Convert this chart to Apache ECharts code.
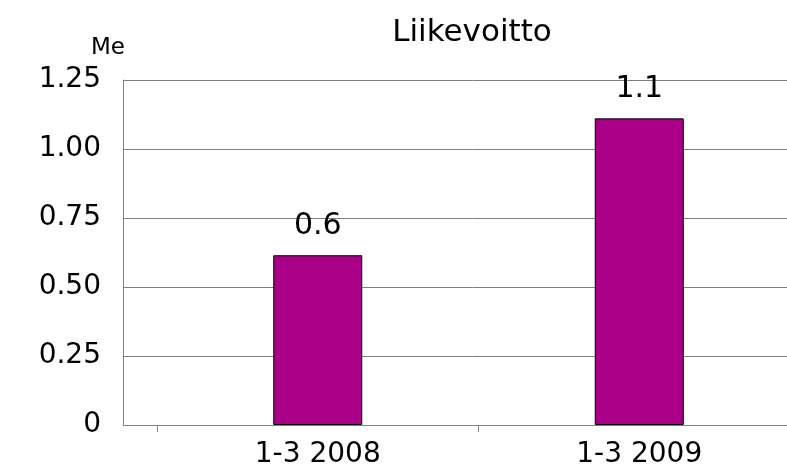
<!DOCTYPE html>
<html>
<head>
<meta charset="utf-8">
<script src="https://cdn.jsdelivr.net/npm/echarts@6/dist/echarts.min.js"></script>
<style>html,body{margin:0;padding:0;background:#fff}#c{width:787px;height:473px}</style>
</head>
<body>
<div id="c"></div>
<script>
var titleText = 'Liikevoitto';
var unitLabel = 'Me';
var categories = ['1-3 2008', '1-3 2009'];
var values = [0.615, 1.111];
var yTicks = ['0', '0.25', '0.50', '0.75', '1.00', '1.25'];

var chart = echarts.init(document.getElementById('c'));
var font = 'DejaVu Sans';
chart.setOption({
  animation: false,
  backgroundColor: '#ffffff',
  title: {
    text: titleText,
    left: 467, top: 12, textAlign: 'center',
    textStyle: {fontFamily: font, fontSize: 31, fontWeight: 'normal', color: '#000'}
  },
  grid: {left: 157, width: 643, top: 80, bottom: 48, outerBoundsMode: 'none', containLabel: false},
  xAxis: {
    type: 'category',
    data: categories,
    axisLine: {lineStyle: {color: '#808080', width: 1}},
    axisTick: {show: true, length: 7, lineStyle: {color: '#808080'}},
    axisLabel: {fontFamily: font, fontSize: 28, color: '#000', margin: 16}
  },
  yAxis: {
    type: 'value',
    min: 0, max: 1.25, interval: 0.25,
    offset: 34,
    name: unitLabel,
    nameLocation: 'end',
    nameGap: 20,
    nameTextStyle: {fontFamily: font, fontSize: 23, color: '#000', padding: [0, 30, 0, 0]},
    axisLine: {show: true, lineStyle: {color: '#808080', width: 1}},
    axisTick: {show: true, inside: true, length: 34, lineStyle: {color: '#808080'}},
    splitLine: {show: true, lineStyle: {color: '#808080', width: 1}},
    axisLabel: {
      fontFamily: font, fontSize: 28, color: '#000', margin: 22,
      formatter: function (v) { return yTicks[Math.round(v / 0.25)]; }
    }
  },
  series: [{
    type: 'bar',
    data: values,
    barWidth: 89,
    itemStyle: {color: '#aa0088', borderColor: '#000', borderWidth: 1},
    label: {
      show: true, position: 'top', distance: 14,
      fontFamily: font, fontSize: 30, color: '#000',
      formatter: function (p) { return p.value.toFixed(1); }
    }
  }]
});
</script>
</body>
</html>
